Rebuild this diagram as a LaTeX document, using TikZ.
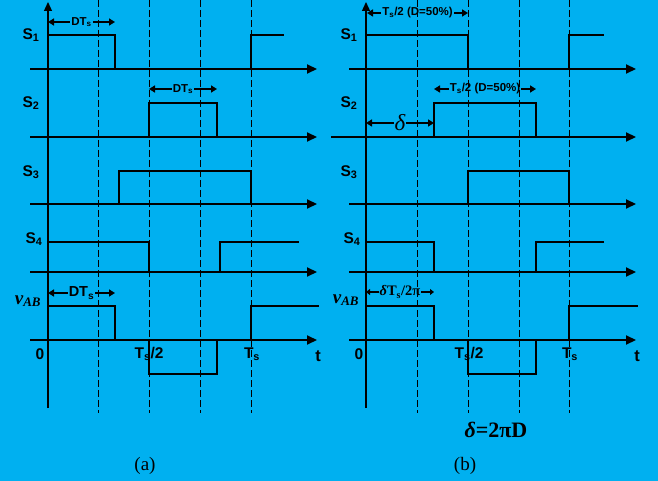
\documentclass[tikz,border=0pt]{standalone}
\usepackage{fontspec}
\setmainfont{Liberation Sans}
\newfontfamily\serif{Liberation Serif}
\usetikzlibrary{arrows.meta}
\definecolor{bg}{RGB}{0,176,240}
\begin{document}
\begin{tikzpicture}[x=1pt,y=-1pt,
  wave/.style={line width=2.8pt},
  haxis/.style={line width=2.1pt,-{Triangle[length=10pt,width=9pt]}},
  vaxis/.style={line width=1.3pt,-{Triangle[length=9pt,width=8pt]}},
  guide/.style={line width=0.9pt,dash pattern=on 7pt off 3pt},
  dim/.style={line width=2pt,{Triangle[length=6pt,width=7pt]}-{Triangle[length=6pt,width=7pt]}},
  sdim/.style={line width=1.6pt,{Triangle[length=4pt,width=6pt]}-{Triangle[length=4pt,width=6pt]}},
  dimlbl/.style={fill=bg,inner sep=1pt,font=\bfseries\fontsize{11.5}{11.5}\selectfont},
  sig/.style={inner sep=0pt,font=\bfseries\fontsize{15.5}{15.5}\selectfont},
  vlbl/.style={inner sep=0pt,font=\serif\bfseries\itshape\fontsize{19}{19}\selectfont},
  tlbl/.style={inner sep=0pt,font=\bfseries\fontsize{15.5}{15.5}\selectfont},
  captxt/.style={inner sep=0pt,font=\serif\fontsize{19}{19}\selectfont}]
\path[fill=bg] (0,0) rectangle (658,481);
\useasboundingbox (0,0) rectangle (658,481);

% ---------------- panel (a) ----------------
\draw[vaxis] (48,408) -- (48,2);
\foreach \y in {69,204,272,340} \draw[haxis] (30,\y) -- (317,\y);
\draw[haxis] (30,137) -- (317,137);
\draw[wave] (48,69) -- (48,35) -- (115,35) -- (115,69) -- (251,69) -- (251,35) -- (284,35);
\draw[wave] (30,137) -- (149,137) -- (149,103) -- (217,103) -- (217,137) -- (285,137);
\draw[wave] (48,204) -- (119,204) -- (119,171) -- (251,171) -- (251,204) -- (300,204);
\draw[wave] (48,242) -- (149,242) -- (149,272) -- (220,272) -- (220,242) -- (299,242);
\draw[wave] (48,340) -- (48,306) -- (115,306) -- (115,340) -- (149,340) -- (149,374) -- (217,374) -- (217,340) -- (251,340) -- (251,306) -- (319,306);

\coordinate (a1l) at (48,22);  \coordinate (a1r) at (115,22);
\coordinate (a2l) at (149,89); \coordinate (a2r) at (217,89);
\coordinate (a3l) at (48,293); \coordinate (a3r) at (115,293);
\draw[dim] (a1l) -- (a1r) node[midway,dimlbl] (da1) {DT\textsubscript{s}};
\draw[dim] (a2l) -- (a2r) node[midway,dimlbl] (da2) {DT\textsubscript{s}};
\draw[dim] (a3l) -- (a3r) node[midway,dimlbl,font=\bfseries\fontsize{14.5}{14.5}\selectfont] (da3) {DT\textsubscript{s}};

\node[sig] (aS1) at (31,35) {S\textsubscript{1}};
\node[sig] (aS2) at (31,103) {S\textsubscript{2}};
\node[sig] (aS3) at (31,172) {S\textsubscript{3}};
\node[sig] (aS4) at (34,239) {S\textsubscript{4}};
\node[vlbl] (avab) at (28,301) {v\textsubscript{\fontsize{13}{13}\selectfont AB}};
\node[tlbl] (a0) at (40,354) {0};
\node[tlbl] (ahalf) at (149,354) {T\textsubscript{s}/2};
\node[tlbl] (aT) at (252,354) {T\textsubscript{s}};
\node[tlbl,font=\bfseries\fontsize{16.5}{16.5}\selectfont] (at) at (318,356) {t};
\node[captxt] (capa) at (145,466) {(a)};

\foreach \x in {98,149,200,251} \draw[guide] (\x,0) -- (\x,413);

% ---------------- panel (b) ----------------
\draw[vaxis] (366,408) -- (366,2);
\foreach \y in {69,204,272,340} \draw[haxis] (349,\y) -- (636,\y);
\draw[haxis] (331,137) -- (636,137);
\draw[wave] (366,69) -- (366,35) -- (468,35) -- (468,69) -- (569,69) -- (569,35) -- (604,35);
\draw[wave] (331,137) -- (434,137) -- (434,103) -- (536,103) -- (536,137) -- (604,137);
\draw[wave] (366,204) -- (468,204) -- (468,171) -- (569,171) -- (569,204) -- (604,204);
\draw[wave] (366,242) -- (434,242) -- (434,272) -- (536,272) -- (536,242) -- (604,242);
\draw[wave] (366,340) -- (366,306) -- (434,306) -- (434,340) -- (468,340) -- (468,374) -- (536,374) -- (536,340) -- (569,340) -- (569,306) -- (638,306);

\coordinate (b1l) at (367,13);  \coordinate (b1r) at (468,13);
\coordinate (b2l) at (434,89);  \coordinate (b2r) at (536,89);
\coordinate (b3l) at (366,123); \coordinate (b3r) at (434,123);
\coordinate (b4l) at (366,292); \coordinate (b4r) at (434,292);
\draw[dim] (b1l) -- (b1r) node[midway,dimlbl] (db1) {T\textsubscript{s}/2 (D=50\%)};
\draw[dim] (b2l) -- (b2r) node[midway,dimlbl] (db2) {T\textsubscript{s}/2 (D=50\%)};
\draw[dim] (b3l) -- (b3r) node[midway,fill=bg,inner sep=1pt,font=\serif\itshape\fontsize{23}{23}\selectfont] (db3) {δ};
\draw[sdim] (b4l) -- (b4r) node[midway,fill=bg,inner sep=1pt,font=\serif\bfseries\fontsize{14.5}{14.5}\selectfont] (db4) {\textit{δ}T\textsubscript{s}/2π};

\node[sig] (bS1) at (349,35) {S\textsubscript{1}};
\node[sig] (bS2) at (349,103) {S\textsubscript{2}};
\node[sig] (bS3) at (349,172) {S\textsubscript{3}};
\node[sig] (bS4) at (352,239) {S\textsubscript{4}};
\node[vlbl] (bvab) at (346,300) {v\textsubscript{\fontsize{13}{13}\selectfont AB}};
\node[tlbl] (b0) at (359,354) {0};
\node[tlbl] (bhalf) at (469,354) {T\textsubscript{s}/2};
\node[tlbl] (bT) at (570,354) {T\textsubscript{s}};
\node[tlbl,font=\bfseries\fontsize{16.5}{16.5}\selectfont] (bt) at (637,356) {t};
\node[inner sep=0pt,font=\serif\bfseries\fontsize{22}{22}\selectfont] (formula) at (496,430) {\textit{δ}=2πD};
\node[captxt] (capb) at (465,466) {(b)};

\foreach \x in {417,468,519,569} \draw[guide] (\x,0) -- (\x,413);
\end{tikzpicture}
\end{document}
